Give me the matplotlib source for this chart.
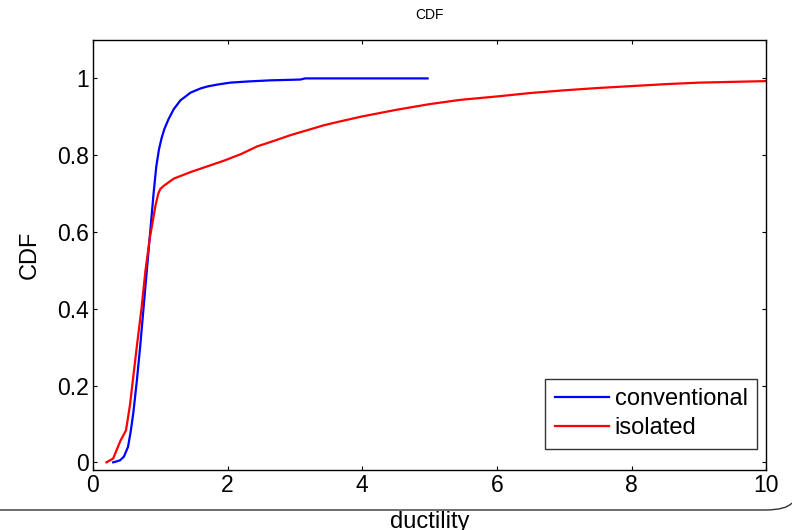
import matplotlib
matplotlib.use("Agg")
import matplotlib.pyplot as plt
from matplotlib.path import Path
from matplotlib.patches import PathPatch

plt.rcParams["font.family"] = ["Liberation Sans", "DejaVu Sans"]

# conventional structure CDF of ductility
conv_x = [0.30, 0.40, 0.46, 0.52, 0.56, 0.60, 0.65, 0.70, 0.75, 0.80, 0.85, 0.90,
          0.94, 0.98, 1.02, 1.06, 1.12, 1.20, 1.30, 1.45, 1.60, 1.70, 1.85, 2.04,
          2.30, 2.64, 3.08, 3.15, 4.97]
conv_y = [0.0, 0.005, 0.015, 0.04, 0.08, 0.13, 0.21, 0.30, 0.40, 0.50, 0.60, 0.70,
          0.77, 0.815, 0.845, 0.868, 0.893, 0.92, 0.943, 0.963, 0.974, 0.979, 0.984,
          0.989, 0.992, 0.995, 0.997, 1.0, 1.0]

# isolated structure CDF of ductility
iso_x = [0.20, 0.30, 0.41, 0.49, 0.55, 0.59, 0.65, 0.72, 0.78, 0.84, 0.88, 0.93,
         0.97, 1.00, 1.05, 1.20, 1.45, 1.70, 1.95, 2.20, 2.44, 2.70, 2.93, 3.20,
         3.43, 3.67, 4.00, 4.50, 5.00, 5.45, 6.00, 6.50, 7.00, 7.50, 8.00, 8.50,
         9.00, 9.50, 10.0]
iso_y = [0.0, 0.01, 0.057, 0.083, 0.15, 0.21, 0.30, 0.40, 0.50, 0.58, 0.62, 0.67,
         0.70, 0.712, 0.72, 0.739, 0.756, 0.771, 0.786, 0.803, 0.823, 0.838, 0.852,
         0.866, 0.878, 0.888, 0.901, 0.918, 0.933, 0.944, 0.953, 0.962, 0.969, 0.975,
         0.980, 0.985, 0.989, 0.991, 0.993]

xticks = [0, 2, 4, 6, 8, 10]
yticks = [0, 0.2, 0.4, 0.6, 0.8, 1]

fig = plt.figure(figsize=(7.92, 5.30), dpi=100)
ax = fig.add_axes([0.1174, 0.1132, 0.850, 0.8113])

ax.plot(conv_x, conv_y, color="#0000ff", linewidth=1.6, label="conventional")
ax.plot(iso_x, iso_y, color="#ff0000", linewidth=1.6, label="isolated")

ax.set_xlim(0, 10)
ax.set_ylim(-0.02, 1.1)
ax.set_xticks(xticks)
ax.set_yticks(yticks)
ax.set_xticklabels([str(t) for t in xticks])
ax.set_yticklabels(["0", "0.2", "0.4", "0.6", "0.8", "1"])
ax.tick_params(direction="in", top=True, right=True, length=3, width=0.8,
               labelsize=16.5, pad=3)
for s in ax.spines.values():
    s.set_linewidth(1.0)

ax.set_title("CDF", fontsize=10, pad=15)
ax.set_ylabel("CDF", fontsize=17, labelpad=12)
ax.set_xlabel("ductility", fontsize=17, labelpad=10)

leg = ax.legend(loc="lower right", bbox_to_anchor=(0.9866, 0.049), fontsize=17,
                frameon=True, fancybox=False, handlelength=2.3, handletextpad=0.25,
                borderpad=0.4, labelspacing=0.3, borderaxespad=0)
leg.get_frame().set_edgecolor("black")
leg.get_frame().set_linewidth(1.0)

# frame edge line across the bottom of the figure
y0 = 1 - 510 / 530
verts = [(0, y0), (765 / 792, y0), (786 / 792, y0), (792 / 792, 1 - 503 / 530)]
codes = [Path.MOVETO, Path.LINETO, Path.CURVE3, Path.CURVE3]
fig.add_artist(PathPatch(Path(verts, codes), transform=fig.transFigure,
                         facecolor="none", edgecolor="#333333", linewidth=1.0))

fig.savefig("out.png", dpi=100)
